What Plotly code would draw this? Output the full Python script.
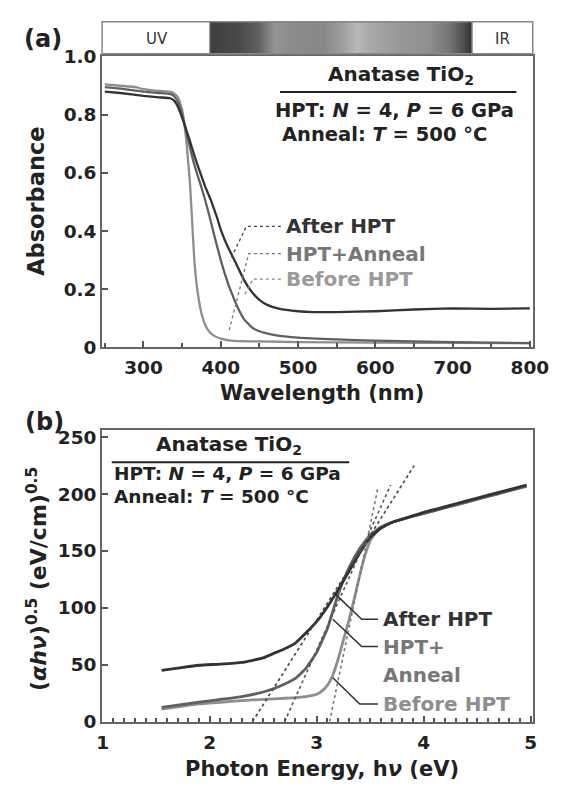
import plotly.graph_objects as go

W, H = 567, 792
FONT = "DejaVu Sans, Liberation Sans, Arial, sans-serif"

# ---------------- Panel (a): Absorbance vs wavelength ----------------
wl_after = [250, 270, 300, 320, 335, 340, 345, 350, 355, 360, 365, 370, 380, 387, 395, 400, 408, 416,
            420, 430, 440, 450, 460, 475, 500, 520, 550, 600, 650, 700, 750, 800]
abs_after = [0.880, 0.875, 0.865, 0.860, 0.857, 0.848, 0.825, 0.790, 0.752, 0.710, 0.667, 0.627, 0.552,
             0.508, 0.448, 0.405, 0.352, 0.309, 0.287, 0.232, 0.191, 0.163, 0.146, 0.133, 0.124, 0.121,
             0.121, 0.124, 0.130, 0.134, 0.132, 0.134]

wl_ann = [250, 270, 300, 320, 335, 340, 345, 350, 355, 360, 365, 370, 375, 380, 385, 390, 395, 400, 405,
          410, 416, 420, 430, 440, 450, 470, 500, 550, 600, 700, 800]
abs_ann = [0.895, 0.890, 0.880, 0.875, 0.871, 0.863, 0.842, 0.800, 0.745, 0.688, 0.636, 0.592, 0.550,
           0.505, 0.455, 0.402, 0.350, 0.300, 0.255, 0.215, 0.174, 0.148, 0.097, 0.069, 0.055, 0.042,
           0.033, 0.027, 0.023, 0.018, 0.014]

wl_bef = [250, 270, 290, 300, 320, 335, 340, 345, 350, 355, 360, 363, 366, 370, 375, 380, 385, 391,
          400, 416, 450, 500, 600, 700, 800]
abs_bef = [0.905, 0.900, 0.895, 0.888, 0.882, 0.879, 0.873, 0.858, 0.818, 0.722, 0.572, 0.432, 0.292,
           0.192, 0.117, 0.076, 0.054, 0.040, 0.030, 0.022, 0.020, 0.018, 0.016, 0.015, 0.014]

wl_ticks = [300, 400, 500, 600, 700, 800]
abs_ticks = [0, 0.2, 0.4, 0.6, 0.8, 1.0]
abs_ticktext = ["0", "0.2", "0.4", "0.6", "0.8", "1.0"]

# ---------------- Panel (b): Tauc plot ----------------
E_after = [1.55, 1.7, 1.9, 2.1, 2.3, 2.5, 2.6, 2.7, 2.8, 2.9, 3.0, 3.1, 3.2, 3.3, 3.4, 3.5, 3.6, 3.7,
           3.8, 4.0, 4.2, 4.4, 4.6, 4.8, 4.96]
T_after = [45, 47, 49.5, 50.5, 52, 56, 60, 64, 69, 78, 88, 101, 116, 132, 148, 162, 170, 175, 178,
           184, 189, 194, 199, 204, 208]

E_ann = [1.55, 1.7, 1.9, 2.1, 2.3, 2.5, 2.6, 2.7, 2.8, 2.9, 3.0, 3.1, 3.15, 3.2, 3.3, 3.4, 3.5, 3.6,
         3.7, 3.8, 4.0, 4.2, 4.4, 4.6, 4.8, 4.96]
T_ann = [12.5, 14.5, 17, 19.5, 22, 26, 29, 33, 38, 47, 61, 82, 97, 112, 135, 152, 164, 171, 175, 178,
         183, 188, 193, 198, 203, 207]

E_bef = [1.55, 1.7, 1.9, 2.1, 2.3, 2.5, 2.7, 2.9, 3.0, 3.05, 3.1, 3.15, 3.2, 3.25, 3.3, 3.35, 3.4,
         3.45, 3.5, 3.55, 3.6, 3.7, 3.8, 4.0, 4.2, 4.4, 4.6, 4.8, 4.96]
T_bef = [11, 13, 15.5, 17, 18.5, 19.5, 20.5, 22, 24, 27, 32, 41, 55, 72, 89, 108, 128, 146, 159,
         166, 170, 175, 178, 183, 188, 193, 198, 203, 207]

# linear band-gap fits (tangent lines)
tan_after_E = [2.40, 3.91]
tan_after_T = [0, 225]
tan_ann_E = [2.70, 3.69]
tan_ann_T = [0, 208]
tan_bef_E = [3.12, 3.57]
tan_bef_T = [0, 205]

E_ticks = [1, 2, 3, 4, 5]
T_ticks = [0, 50, 100, 150, 200, 250]

# spectrum bar gradient (grey levels)
grad_pos = [212, 240, 262, 280, 295, 330, 350, 365, 380, 410, 440, 460, 475, 485]
grad_gray = [64, 72, 96, 149, 140, 136, 160, 184, 168, 152, 144, 120, 80, 48]

C_AFTER = "#333333"
C_ANN = "#606060"
C_BEF = "#8e8e8e"


def px(x):
    return x / W


def py(y):
    return 1 - y / H


fig = go.Figure()

# gradient bar
fig.add_trace(go.Heatmap(x=grad_pos, y=[0, 1], z=[grad_gray, grad_gray], zsmooth="best",
                         colorscale=[[0, "rgb(0,0,0)"], [1, "rgb(255,255,255)"]], zmin=0, zmax=255,
                         showscale=False, xaxis="x3", yaxis="y3", hoverinfo="skip"))

for x, y, c in [(wl_bef, abs_bef, C_BEF), (wl_ann, abs_ann, C_ANN), (wl_after, abs_after, C_AFTER)]:
    fig.add_trace(go.Scatter(x=x, y=y, mode="lines", xaxis="x", yaxis="y", showlegend=False,
                             line=dict(color=c, width=2.3, shape="spline", smoothing=0.35),
                             hoverinfo="skip"))

for x, y, c in [(E_bef, T_bef, C_BEF), (E_ann, T_ann, C_ANN), (E_after, T_after, C_AFTER)]:
    fig.add_trace(go.Scatter(x=x, y=y, mode="lines", xaxis="x2", yaxis="y2", showlegend=False,
                             line=dict(color=c, width=2.8, shape="spline", smoothing=0.4),
                             hoverinfo="skip"))

for x, y, c in [(tan_after_E, tan_after_T, "#444444"), (tan_ann_E, tan_ann_T, "#555555"),
                (tan_bef_E, tan_bef_T, "#777777")]:
    fig.add_trace(go.Scatter(x=x, y=y, mode="lines", xaxis="x2", yaxis="y2", showlegend=False,
                             line=dict(color=c, width=1.6, dash="dot"), hoverinfo="skip"))

axis_common = dict(showline=True, linecolor="#666666", linewidth=2, mirror=True, showgrid=False,
                   zeroline=False, ticks="inside", tickcolor="#555555", tickwidth=1.5, ticklen=6,
                   tickfont=dict(family=FONT, size=18.5, color="#222222", weight="bold"))

xd = [px(100), px(548)]
fig.update_layout(
    width=W, height=H, margin=dict(l=0, r=0, t=0, b=0),
    paper_bgcolor="white", plot_bgcolor="white", showlegend=False,
    xaxis=dict(domain=xd, range=[246.5, 803.7], anchor="y", tickvals=wl_ticks, ticklabelstandoff=3,
               minor=dict(ticks="inside", tick0=250, dtick=50, ticklen=4, tickcolor="#555555"),
               **axis_common),
    yaxis=dict(domain=[py(346), py(47)], range=[0, 1.003], anchor="x", tickvals=abs_ticks,
               ticktext=abs_ticktext, **axis_common),
    xaxis2=dict(domain=xd, range=[0.994, 5.018], anchor="y2", tickvals=E_ticks, ticklabelstandoff=3,
                minor=dict(ticks="inside", tick0=1, dtick=0.1, ticklen=4, tickcolor="#555555"),
                **axis_common),
    yaxis2=dict(domain=[py(730), py(430.7)], range=[0, 256.5], anchor="x2", tickvals=T_ticks,
                **axis_common),
    xaxis3=dict(domain=[px(212), px(485)], range=[212, 485], anchor="y3", visible=False),
    yaxis3=dict(domain=[py(45), py(12)], range=[-0.5, 1.5], anchor="x3", visible=False),
)

shapes = []
# spectrum bar frame
shapes.append(dict(type="rect", xref="paper", yref="paper", x0=px(100), x1=px(548), y0=py(45), y1=py(12),
                   line=dict(color="#888888", width=1.5)))
for xx in (212, 485):
    shapes.append(dict(type="line", xref="paper", yref="paper", x0=px(xx), x1=px(xx), y0=py(45), y1=py(12),
                       line=dict(color="#888888", width=1.2)))
# underlines
shapes.append(dict(type="line", xref="paper", yref="paper", x0=px(285), x1=px(531), y0=py(84), y1=py(84),
                   line=dict(color="#222222", width=2)))
shapes.append(dict(type="line", xref="paper", yref="paper", x0=px(110), x1=px(357), y0=py(464), y1=py(464),
                   line=dict(color="#222222", width=2)))


def path(points):
    return "M " + " L ".join(f"{px(a):.5f},{py(b):.5f}" for a, b in points)


# dotted leaders in panel (a)
for pts, c in [([(286, 222), (250, 222), (233, 257)], "#444444"),
               ([(286, 250), (252.5, 250), (231.5, 331)], "#777777"),
               ([(286, 276), (257, 276), (248, 293)], "#888888")]:
    shapes.append(dict(type="path", xref="paper", yref="paper", path=path(pts),
                       line=dict(color=c, width=1.3, dash="dot")))
# solid leaders in panel (b)
for pts in [[(341.7, 598.3), (370, 625), (387, 625)],
            [(340, 625), (370, 653), (387, 653)],
            [(340, 685), (368, 712), (387, 712)]]:
    shapes.append(dict(type="path", xref="paper", yref="paper", path=path(pts),
                       line=dict(color="#333333", width=1.6)))
fig.update_layout(shapes=shapes)


def ann(text, x, y, size, color="#222222", xanchor="center", weight="bold", angle=0):
    return dict(text=text, x=px(x), y=py(y), xref="paper", yref="paper", xanchor=xanchor,
                yanchor="middle", showarrow=False, textangle=angle,
                font=dict(family=FONT, size=size, color=color, weight=weight))


anns = [
    ann("(a)", 39, 30, 24),
    ann("(b)", 40, 423, 24),
    ann("UV", 157, 30, 15, color="#333333", weight="normal"),
    ann("IR", 517, 30, 15, color="#333333", weight="normal"),
    ann("Anatase TiO<sub>2</sub>", 411, 67, 20),
    ann("HPT: <i>N</i> = 4, <i>P</i> = 6 GPa", 531, 103, 19.5, xanchor="right"),
    ann("Anneal: <i>T</i> = 500 °C", 285, 128, 19.5, xanchor="left"),
    ann("After HPT", 289, 222, 20, color="#333333", xanchor="left"),
    ann("HPT+Anneal", 289, 250, 20, color="#777777", xanchor="left"),
    ann("Before HPT", 289, 276, 20, color="#9a9a9a", xanchor="left"),
    ann("Absorbance", 31, 196, 22.5, angle=-90),
    ann("Wavelength (nm)", 329, 393, 21),
    ann("Anatase TiO<sub>2</sub>", 232, 446, 20),
    ann("HPT: <i>N</i> = 4, <i>P</i> = 6 GPa", 110, 476, 18.5, xanchor="left"),
    ann("Anneal: <i>T</i> = 500 °C", 110, 499, 18.5, xanchor="left"),
    ann("After HPT", 390, 625, 20, color="#333333", xanchor="left"),
    ann("HPT+", 390, 653, 20, color="#777777", xanchor="left"),
    ann("Anneal", 390, 682, 20, color="#777777", xanchor="left"),
    ann("Before HPT", 390, 712, 20, color="#8e8e8e", xanchor="left"),
    ann("(<i>αh</i><i>ν</i>)<sup>0.5</sup> (eV/cm)<sup>0.5</sup>", 32, 584, 22, angle=-90),
    ann("Photon Energy, h<i>ν</i> (eV)", 329, 779, 21),
]
fig.update_layout(annotations=anns)

fig.write_html("out.html", config={"displayModeBar": False},
               post_script="document.body.style.margin='0';document.body.style.padding='0';"
                           "document.body.style.overflow='hidden';")
